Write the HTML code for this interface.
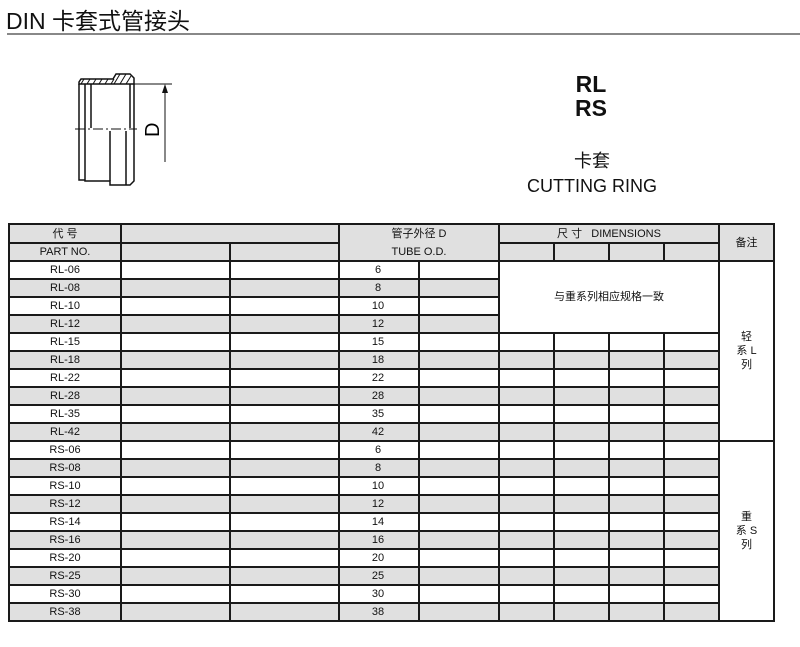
<!DOCTYPE html>
<html><head><meta charset="utf-8"><style>
body{margin:0;width:800px;height:647px;background:#fff;position:relative;overflow:hidden;font-family:"Liberation Sans","Noto Sans CJK SC",sans-serif;color:#111}
.t{position:absolute}
table{position:absolute;left:8px;top:223px;border-collapse:collapse;table-layout:fixed;font-size:11px}
td{border:2px solid #1a1a1a;padding:0;text-align:center;line-height:14px;overflow:hidden;white-space:nowrap}
tr{height:18px}
.g td{background:#e0e0e0}
.g td.w,td.w{background:#fff}
.h td{background:#e0e0e0}
.l{text-align:center;padding-right:2px}
</style></head><body>
<div class="t" style="left:6px;top:2px;font-size:23px;">DIN 卡套式管接头</div>
<div class="t" style="left:7px;top:33px;width:793px;height:2px;background:#888"></div>
<svg class="t" style="left:0;top:0" width="200" height="200">
<g fill="none" stroke="#111" stroke-width="1.5">
<polygon points="79,82 81,79 113,79 116,74 130,74 134,78 134,84 79,84" fill="#fff"/>
<path d="M84,79l-3,5M90,79l-3,5M96,79l-3,5M102,79l-3,5M108,79l-3,5M114,79l-3,5M120,74l-6,10M126,74l-6,10M131,76l-5,8" stroke-width="1"/>
<path d="M79,84V180H85"/>
<path d="M85,84V181H110V185H130L134,181V84"/>
<path d="M91,84V128M130,84V128"/>
<path d="M110,131V181M126,131V185"/>
<path d="M75,129H137" stroke-dasharray="10,3,2,3" stroke-width="1"/>
<path d="M134,84H172M165,86V162" stroke-width="1"/>
</g>
<polygon points="165,84 162,93 168,93" fill="#111"/>
<text x="0" y="0" font-size="20" font-family="Liberation Sans" transform="translate(159,137) rotate(-90)">D</text>
</svg>
<div class="t" style="left:560px;top:72px;width:62px;text-align:center;font-size:23px;font-weight:bold;line-height:24px">RL<br>RS</div>
<div class="t" style="left:492px;top:149px;width:200px;text-align:center;font-size:18px;line-height:25px">卡套<br>CUTTING RING</div>
<table>
<colgroup><col style="width:112px"><col style="width:109px"><col style="width:109px"><col style="width:80px"><col style="width:80px"><col style="width:55px"><col style="width:55px"><col style="width:55px"><col style="width:55px"><col style="width:55px"></colgroup>
<tr class="h" style="height:19px"><td>代 号</td><td colspan="2"></td><td colspan="2" style="border-bottom:0">管子外径 D</td><td colspan="4">尺 寸 &nbsp; DIMENSIONS</td><td rowspan="2">备注</td></tr>
<tr class="h"><td>PART NO.</td><td></td><td></td><td colspan="2" style="border-top:0">TUBE O.D.</td><td></td><td></td><td></td><td></td></tr>
<tr><td>RL-06</td><td></td><td></td><td class="l">6</td><td></td><td colspan="4" rowspan="4" class="w">与重系列相应规格一致</td><td rowspan="10" class="w">轻<br>系 L<br>列</td></tr>
<tr class="g"><td>RL-08</td><td></td><td></td><td class="l">8</td><td></td></tr>
<tr><td>RL-10</td><td></td><td></td><td class="l">10</td><td></td></tr>
<tr class="g"><td>RL-12</td><td></td><td></td><td class="l">12</td><td></td></tr>
<tr><td>RL-15</td><td></td><td></td><td class="l">15</td><td></td><td></td><td></td><td></td><td></td></tr>
<tr class="g"><td>RL-18</td><td></td><td></td><td class="l">18</td><td></td><td></td><td></td><td></td><td></td></tr>
<tr><td>RL-22</td><td></td><td></td><td class="l">22</td><td></td><td></td><td></td><td></td><td></td></tr>
<tr class="g"><td>RL-28</td><td></td><td></td><td class="l">28</td><td></td><td></td><td></td><td></td><td></td></tr>
<tr><td>RL-35</td><td></td><td></td><td class="l">35</td><td></td><td></td><td></td><td></td><td></td></tr>
<tr class="g"><td>RL-42</td><td></td><td></td><td class="l">42</td><td></td><td></td><td></td><td></td><td></td></tr>
<tr><td>RS-06</td><td></td><td></td><td class="l">6</td><td></td><td></td><td></td><td></td><td></td><td rowspan="10" class="w">重<br>系 S<br>列</td></tr>
<tr class="g"><td>RS-08</td><td></td><td></td><td class="l">8</td><td></td><td></td><td></td><td></td><td></td></tr>
<tr><td>RS-10</td><td></td><td></td><td class="l">10</td><td></td><td></td><td></td><td></td><td></td></tr>
<tr class="g"><td>RS-12</td><td></td><td></td><td class="l">12</td><td></td><td></td><td></td><td></td><td></td></tr>
<tr><td>RS-14</td><td></td><td></td><td class="l">14</td><td></td><td></td><td></td><td></td><td></td></tr>
<tr class="g"><td>RS-16</td><td></td><td></td><td class="l">16</td><td></td><td></td><td></td><td></td><td></td></tr>
<tr><td>RS-20</td><td></td><td></td><td class="l">20</td><td></td><td></td><td></td><td></td><td></td></tr>
<tr class="g"><td>RS-25</td><td></td><td></td><td class="l">25</td><td></td><td></td><td></td><td></td><td></td></tr>
<tr><td>RS-30</td><td></td><td></td><td class="l">30</td><td></td><td></td><td></td><td></td><td></td></tr>
<tr class="g"><td>RS-38</td><td></td><td></td><td class="l">38</td><td></td><td></td><td></td><td></td><td></td></tr>
</table>
</body></html>
